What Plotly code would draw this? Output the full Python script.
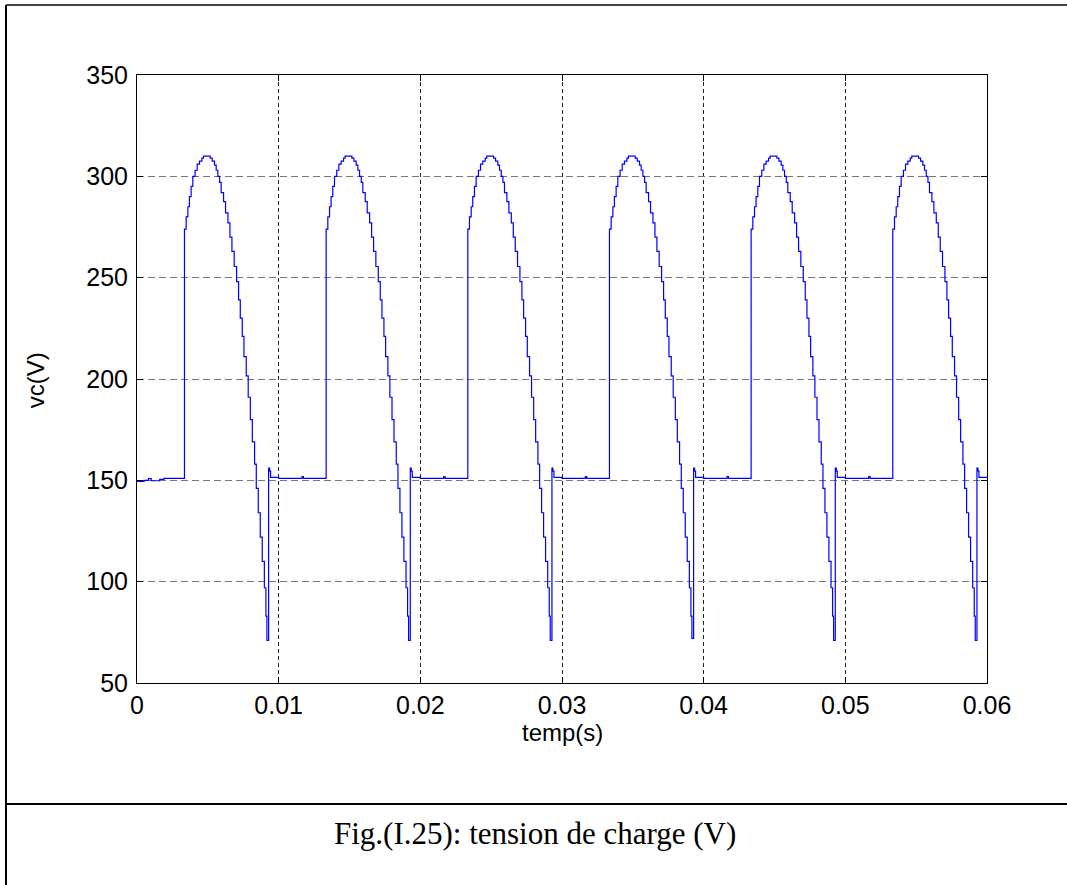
import plotly.graph_objects as go

# ---------------- data ----------------
CYCLE_START_S = [0.00, 0.01, 0.02, 0.03, 0.04, 0.05]
SPIKE_MIN = [71, 71, 71, 72, 71, 71]

# initial ripple of the first cycle (time s, value V)
INIT_T = [0.0000, 0.0005, 0.0008, 0.0010, 0.0016, 0.0019]
INIT_V = [149.5, 150.0, 150.8, 149.8, 150.5, 151.0]

FLAT_V = 151.0

# one conduction interval, time in ms inside the cycle, value in V
STEP_T_MS = [3.18, 3.35, 3.47, 3.59, 3.70, 3.82, 3.94, 4.10, 4.25, 4.41,
             4.58, 4.69, 5.17, 5.31, 5.47, 5.59, 5.71, 5.83, 5.94, 6.11,
             6.25, 6.42, 6.56, 6.70, 6.86, 7.03, 7.17, 7.29, 7.43, 7.55,
             7.71, 7.85, 8.00, 8.14, 8.30, 8.42, 8.56, 8.70, 8.84, 8.99,
             9.10, 9.17, 9.29, 9.36, 9.43]
STEP_V = [151.0, 274, 280, 285, 290, 295, 300, 303, 306, 307.5,
          309, 310, 309, 307.5, 305.5, 303, 300, 297, 292, 287.5,
          282, 277, 270, 263, 255.5, 248, 239, 230, 221, 211,
          201.5, 191, 180, 169, 158, 146, 134, 122, 110, 97,
          83, None, 156, 154.5, 151.5]
SMALL_BUMP_MS = [1.65, 1.75]
SMALL_BUMP_V = [151.8, 151.0]
END_T = 0.06
END_V = 151.0

X_TICKS = [0, 0.01, 0.02, 0.03, 0.04, 0.05, 0.06]
X_TICKTEXT = ["0", "0.01", "0.02", "0.03", "0.04", "0.05", "0.06"]
Y_TICKS = [50, 100, 150, 200, 250, 300, 350]

# ---------------- assemble series ----------------
t_all, v_all = [], []
for c, t0 in enumerate(CYCLE_START_S):
    if c == 0:
        t_all += INIT_T
        v_all += INIT_V
    else:
        t_all.append(t0)
        v_all.append(FLAT_V)
        for tb, vb in zip(SMALL_BUMP_MS, SMALL_BUMP_V):
            t_all.append(t0 + tb / 1000.0)
            v_all.append(vb)
    for tm, v in zip(STEP_T_MS, STEP_V):
        t_all.append(t0 + tm / 1000.0)
        v_all.append(SPIKE_MIN[c] if v is None else v)
t_all.append(END_T)
v_all.append(END_V)

fig = go.Figure()
fig.add_trace(go.Scatter(
    x=t_all, y=v_all, mode="lines",
    line=dict(color="#0000ff", width=1.2, shape="hv"),
    showlegend=False, hoverinfo="skip"))

FONT = "Liberation Sans, Arial, sans-serif"

fig.update_layout(
    width=1067, height=885,
    margin=dict(l=137, r=80, t=75, b=202),
    paper_bgcolor="white", plot_bgcolor="white",
    font=dict(family=FONT, size=25, color="black"),
    xaxis=dict(range=[0, 0.06], tickvals=X_TICKS, ticktext=X_TICKTEXT,
               showline=True, linecolor="black", linewidth=1, mirror="ticks",
               ticks="inside", ticklen=6, tickcolor="black",
               showgrid=True, gridcolor="#222", griddash="4px,3px", gridwidth=1,
               zeroline=False, fixedrange=True),
    yaxis=dict(range=[50, 350], tickvals=Y_TICKS, ticklabelstandoff=3,
               showline=True, linecolor="black", linewidth=1, mirror="ticks",
               ticks="inside", ticklen=6, tickcolor="black",
               showgrid=True, gridcolor="#777", griddash="7px,4px", gridwidth=1,
               zeroline=False, fixedrange=True),
)

# axis titles
fig.add_annotation(text="temp(s)", xref="paper", yref="paper", x=0.5, y=-0.082,
                   xanchor="center", yanchor="middle", showarrow=False,
                   font=dict(family=FONT, size=24))
fig.add_annotation(text="vc(V)", xref="paper", yref="paper", x=-0.12, y=0.498,
                   xanchor="center", yanchor="middle", showarrow=False, textangle=-90,
                   font=dict(family=FONT, size=24))

# caption
fig.add_annotation(text="Fig.(I.25): tension de charge (V)", xref="paper", yref="paper",
                   x=0.468, y=-0.247, xanchor="center", yanchor="middle", showarrow=False,
                   font=dict(family="Liberation Serif, Times New Roman, serif", size=31))

# outer frame (page decoration)
XL, XR = (6 - 137) / 850, (1067 - 137) / 850
YT, YD, YB = (683 - 5) / 608, (683 - 804) / 608, (683 - 885) / 608
fig.add_shape(type="line", xref="paper", yref="paper", x0=XL, x1=XR, y0=YT, y1=YT,
              line=dict(color="#444", width=2))
fig.add_shape(type="line", xref="paper", yref="paper", x0=XL, x1=XL, y0=YT, y1=YB,
              line=dict(color="black", width=2))
fig.add_shape(type="line", xref="paper", yref="paper", x0=XL, x1=XR, y0=YD, y1=YD,
              line=dict(color="black", width=2))

fig.write_html("out.html",
               config={"displayModeBar": False},
               post_script="document.body.style.margin='0px';document.body.style.overflow='hidden';")
